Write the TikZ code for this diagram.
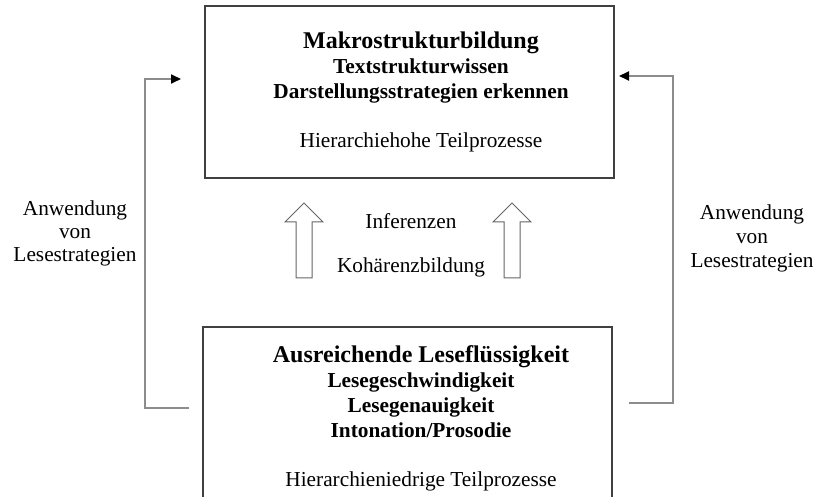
\documentclass[tikz,border=0pt]{standalone}
\usepackage{fontspec}
\setmainfont{Liberation Serif}
\usetikzlibrary{arrows.meta}

\tikzset{
  box/.style={draw=black!75, line width=1pt, minimum width=204.5pt},
  boxtext/.style={align=center, font=\fontsize{10.65}{12.5}\selectfont},
  conn/.style={draw=black!45, line width=1pt, -{Triangle[length=5pt,width=4.5pt,color=black]}},
  lbl/.style={align=center, font=\fontsize{10.65}{11.5}\selectfont},
  blockarrow/.style={draw=black!60, line width=0.5pt, fill=white}
}

\begin{document}
\begin{tikzpicture}[x=0.5pt, y=-0.5pt]
    \useasboundingbox (0,0) rectangle (814,497);

    % Upper box
    \node[box, minimum height=86pt] (makrobox) at (409.5,92) {};
    \node[boxtext] (makro) at (421,92)
        {{\fontsize{12}{12.5}\selectfont\bfseries Makrostrukturbildung}\\
         \textbf{Textstrukturwissen}\\
         \textbf{Darstellungsstrategien erkennen}\\[12pt]
         Hierarchiehohe Teilprozesse};

    % Lower box (cut off at the bottom)
    \node[box, minimum height=90.5pt] (flussbox) at (407.5,417.5) {};
    \node[boxtext] (fluss) at (421,418.5)
        {{\fontsize{12}{12.5}\selectfont\bfseries Ausreichende Leseflüssigkeit}\\
         \textbf{Lesegeschwindigkeit}\\
         \textbf{Lesegenauigkeit}\\
         \textbf{Intonation/Prosodie}\\[12pt]
         Hierarchieniedrige Teilprozesse};

    % Block arrows between the boxes
    \foreach \cx in {304, 512}
        \draw[blockarrow] (\cx-8,278) -- (\cx-8,222) -- (\cx-19,222) -- (\cx,203)
            -- (\cx+19,222) -- (\cx+8,222) -- (\cx+8,278) -- cycle;

    \node[lbl, anchor=base] (inf) at (411,229) {Inferenzen};
    \node[lbl, anchor=base] (koh) at (411,273) {Kohärenzbildung};

    % Side connectors
    \coordinate (lstart) at (189,408);
    \coordinate (lend) at (181,79);
    \coordinate (rstart) at (629,403);
    \coordinate (rend) at (619,76);
    \draw[conn] (lstart) -- ++(-44,0) |- (lend);
    \draw[conn] (rstart) -- ++(44,0) |- (rend);

    % Labels for connectors
    \node[lbl] (anwl) at (75,233) {Anwendung\\von\\Lesestrategien};
    \node[lbl, font=\fontsize{10.65}{12}\selectfont] (anwr) at (752,238)
        {Anwendung\\von\\Lesestrategien};

\end{tikzpicture}
\end{document}
